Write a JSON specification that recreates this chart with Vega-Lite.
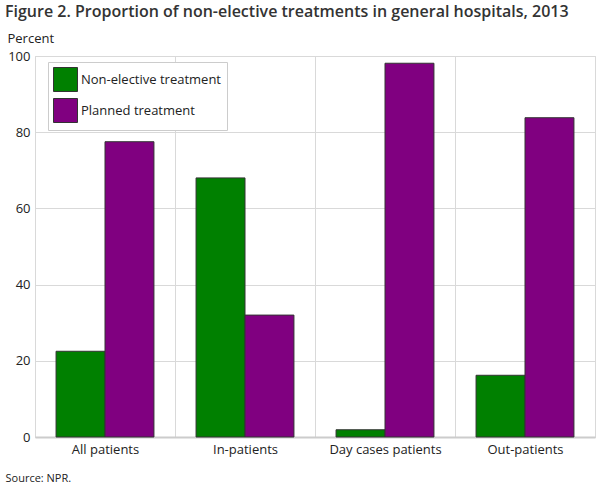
{
  "$schema": "https://vega.github.io/schema/vega-lite/v6.json",
  "width": 560,
  "height": 381,
  "autosize": "none",
  "padding": {"left": 35, "top": 56, "right": 15, "bottom": 51},
  "background": "white",
  "config": {
    "font": "Open Sans",
    "view": {"stroke": "#d9d9d9"}
  },
  "title": {
    "text": "Figure 2. Proportion of non-elective treatments in general hospitals, 2013",
    "anchor": "start",
    "frame": "group",
    "dx": -30,
    "offset": 12,
    "fontSize": 16,
    "fontWeight": 600,
    "color": "#333"
  },
  "data": {
    "values": [
      {"group": "All patients", "type": "Non-elective treatment", "pct": 22.5},
      {"group": "All patients", "type": "Planned treatment", "pct": 77.5},
      {"group": "In-patients", "type": "Non-elective treatment", "pct": 68.0},
      {"group": "In-patients", "type": "Planned treatment", "pct": 32.0},
      {"group": "Day cases patients", "type": "Non-elective treatment", "pct": 1.9},
      {"group": "Day cases patients", "type": "Planned treatment", "pct": 98.1},
      {"group": "Out-patients", "type": "Non-elective treatment", "pct": 16.2},
      {"group": "Out-patients", "type": "Planned treatment", "pct": 83.8}
    ]
  },
  "mark": {"type": "bar", "stroke": "#333", "strokeWidth": 1},
  "encoding": {
    "x": {
      "field": "group",
      "type": "nominal",
      "sort": null,
      "scale": {"paddingInner": 0, "paddingOuter": 0},
      "axis": {
        "title": "Source: NPR.",
        "titleAnchor": "start",
        "titleAlign": "left",
        "titleBaseline": "middle",
        "titleX": -30,
        "titleY": 41,
        "titleFontSize": 11,
        "titleFontWeight": "normal",
        "titleColor": "#222",
        "labelAngle": 0,
        "labelFontSize": 13,
        "labelColor": "#222",
        "labelPadding": 6,
        "ticks": false,
        "grid": true,
        "tickBand": "extent",
        "gridColor": "#d9d9d9",
        "domainColor": "#cccccc",
        "domainWidth": 2
      }
    },
    "xOffset": {
      "field": "type",
      "type": "nominal",
      "scale": {"paddingInner": 0, "paddingOuter": 0.43}
    },
    "y": {
      "field": "pct",
      "type": "quantitative",
      "scale": {"domain": [0, 100]},
      "axis": {
        "title": "Percent",
        "titleAngle": 0,
        "titleAlign": "left",
        "titleBaseline": "bottom",
        "titleX": -28,
        "titleY": -11,
        "titleFontSize": 13,
        "titleFontWeight": "normal",
        "titleColor": "#222",
        "values": [0, 20, 40, 60, 80, 100],
        "labelFontSize": 13,
        "labelColor": "#222",
        "labelPadding": 5,
        "ticks": false,
        "domain": false,
        "gridColor": "#d9d9d9"
      }
    },
    "fill": {
      "field": "type",
      "type": "nominal",
      "scale": {"range": ["#008000", "#800080"]},
      "legend": {
        "title": null,
        "orient": "none",
        "legendX": 13,
        "legendY": 6,
        "fillColor": "white",
        "strokeColor": "#cccccc",
        "padding": 5,
        "symbolType": "square",
        "symbolSize": 576,
        "symbolStrokeColor": "#333",
        "symbolStrokeWidth": 1,
        "symbolOpacity": 1,
        "labelFontSize": 13,
        "labelColor": "#222",
        "labelOffset": 3,
        "rowPadding": 2
      }
    }
  }
}
